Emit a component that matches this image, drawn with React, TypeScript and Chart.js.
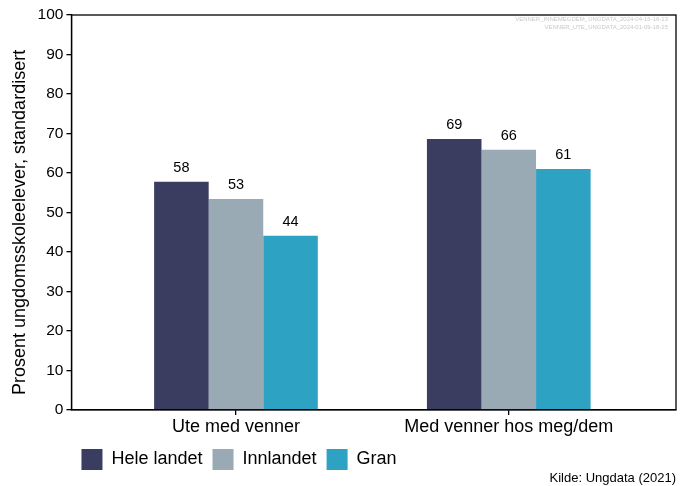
import React, { useEffect, useRef } from "react";
import { Chart, registerables } from "chart.js";

Chart.register(...registerables);

const categories = ["Ute med venner", "Med venner hos meg/dem"];
const seriesNames = ["Hele landet", "Innlandet", "Gran"];
const heleLandet = [57.8, 68.6];
const innlandet = [53.4, 65.9];
const gran = [44.1, 61.0];
const seriesColors = ["#3a3c60", "#99aab4", "#2ea2c3"];
const yTicks = [0, 10, 20, 30, 40, 50, 60, 70, 80, 90, 100];
const stampLines = [
  "VENNER_INNEMEGDEM_UNGDATA_2024-04-16-16-13",
  "VENNER_UTE_UNGDATA_2024-01-09-18-25",
];
const sourceText = "Kilde: Ungdata (2021)";
const yTitle = "Prosent ungdomsskoleelever, standardisert";

const FONT = "'Liberation Sans', Arial, Helvetica, sans-serif";

export default function App() {
  const ref = useRef<HTMLCanvasElement | null>(null);

  useEffect(() => {
    document.body.style.margin = "0";
    const canvas = ref.current;
    if (!canvas) return;
    Chart.defaults.font.family = FONT;
    Chart.defaults.color = "#000";

    const all = [heleLandet, innlandet, gran];
    const datasets = all.map((vals, si) => ({
      label: seriesNames[si],
      data: vals.map((v, i) => ({ x: i + 1, y: v })),
      backgroundColor: seriesColors[si],
      borderWidth: 0,
      barPercentage: 1,
      categoryPercentage: 0.6,
    }));

    const frame = {
      id: "frame",
      afterDraw(chart: any) {
        const { ctx, chartArea } = chart;
        ctx.save();
        ctx.strokeStyle = "#000";
        ctx.lineWidth = 1.3;
        ctx.strokeRect(chartArea.left, chartArea.top, chartArea.right - chartArea.left, chartArea.bottom - chartArea.top);
        ctx.font = `6px ${FONT}`;
        ctx.fillStyle = "#c8c8c8";
        ctx.textAlign = "right";
        ctx.textBaseline = "middle";
        stampLines.forEach((s, i) => ctx.fillText(s, chartArea.right - 8, chartArea.top + 4 + i * 8));
        ctx.restore();
      },
    };

    const valueLabels = {
      id: "valueLabels",
      afterDatasetsDraw(chart: any) {
        const { ctx } = chart;
        ctx.save();
        ctx.font = `14.5px ${FONT}`;
        ctx.fillStyle = "#000";
        ctx.textAlign = "center";
        ctx.textBaseline = "alphabetic";
        chart.data.datasets.forEach((ds: any, di: number) => {
          const meta = chart.getDatasetMeta(di);
          meta.data.forEach((el: any, i: number) => {
            ctx.fillText(String(Math.round(ds.data[i].y)), el.x, el.y - 10);
          });
        });
        ctx.restore();
      },
    };

    const chart = new Chart(canvas, {
      type: "bar",
      data: { datasets },
      plugins: [frame, valueLabels],
      options: {
        animation: false,
        responsive: true,
        maintainAspectRatio: false,
        layout: { padding: { left: 9, right: 10, top: 15, bottom: 0 } },
        scales: {
          x: {
            type: "linear",
            offset: false,
            min: 0.397,
            max: 2.613,
            afterBuildTicks: (axis: any) => {
              axis.ticks = categories.map((_, i) => ({ value: i + 1 }));
            },
            grid: { display: true, offset: false, drawOnChartArea: false, color: "#000", tickLength: 5, lineWidth: 1.3 },
            border: { display: true, color: "#000", width: 1.3 },
            ticks: {
              autoSkip: false,
              maxRotation: 0,
              padding: 3,
              color: "#000",
              font: { size: 18, lineHeight: 1.0 },
              callback: (v: any) => categories[Math.round(Number(v)) - 1] ?? "",
            },
          },
          y: {
            min: 0,
            max: 100,
            afterBuildTicks: (axis: any) => {
              axis.ticks = yTicks.map((v) => ({ value: v }));
            },
            grid: { display: true, drawOnChartArea: false, color: "#000", tickLength: 5, lineWidth: 1.3 },
            border: { display: true, color: "#000", width: 1.3 },
            ticks: { color: "#000", font: { size: 15.5 }, padding: 3 },
            title: {
              display: true,
              text: yTitle + "\u00a0\u00a0\u00a0\u00a0",
              color: "#000",
              font: { size: 18 },
              padding: { top: 0, bottom: 4 },
            },
          },
        },
        plugins: {
          legend: {
            position: "bottom",
            align: "start",
            fullSize: false,
            labels: { boxWidth: 21, boxHeight: 21, padding: 10, color: "#000", font: { size: 18 } },
          },
          subtitle: {
            display: true,
            text: sourceText,
            position: "bottom",
            align: "end",
            color: "#000",
            font: { size: 13 },
            padding: { top: -9.5, bottom: 0 },
          },
          tooltip: { enabled: false },
        },
      },
    } as any);
    return () => chart.destroy();
  }, []);

  return (
    <div style={{ width: 686, height: 486, position: "relative" }}>
      <canvas ref={ref} />
    </div>
  );
}
